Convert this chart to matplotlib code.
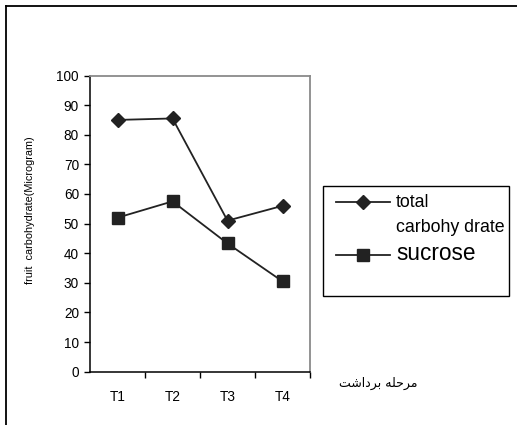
import matplotlib
matplotlib.use("Agg")
import matplotlib.pyplot as plt
from matplotlib.lines import Line2D
from matplotlib.patches import Rectangle

# Harvest stages and measured carbohydrate contents
stages = ["T1", "T2", "T3", "T4"]
total_carbohydrate = [85, 85.5, 51, 56]
sucrose = [52, 57.5, 43.3, 30.5]
y_ticks = list(range(0, 101, 10))

series_label_1 = "total"
series_label_1b = "carbohy drate"
series_label_2 = "sucrose"
y_label = "fruit  carbohydrate(Microgram)"
# "مرحله برداشت" written in presentation forms, visual order
x_label = "\uFE96\uFEB7\uFE8D\uFEA9\uFEAE\uFE91 \uFEEA\uFEE0\uFEA3\uFEAE\uFEE3"

W, H = 517, 425
plt.rcParams["font.family"] = ["Liberation Sans", "DejaVu Sans"]

fig = plt.figure(figsize=(W / 100, H / 100), dpi=100)
fig.patch.set_facecolor("white")


def fx(px):
    return px / W


def fy(py):
    return 1 - py / H


ax = fig.add_axes([fx(90), fy(371.7), fx(310) - fx(90), fy(75.5) - fy(371.7)])

line_color = "#222222"
x = list(range(len(stages)))
ax.plot(x, total_carbohydrate, color=line_color, lw=1.3, marker="D", ms=6.8,
        mfc=line_color, mec=line_color)
ax.plot(x, sucrose, color=line_color, lw=1.3, marker="s", ms=8.2,
        mfc=line_color, mec=line_color)

ax.set_xlim(-0.5, 3.5)
ax.set_ylim(0, 100)
ax.set_yticks(y_ticks)
ax.set_xticks(x)
ax.set_xticklabels(stages)
ax.set_xticks([0.5, 1.5, 2.5, 3.5], minor=True)
ax.tick_params(axis="x", which="major", length=0, pad=13.5, labelsize=9.8)
ax.tick_params(axis="x", which="minor", length=4, width=1, direction="out",
               color="black")
ax.tick_params(axis="y", which="major", length=4, width=1, direction="out",
               pad=4, labelsize=9.8, color="black")

for side in ("left", "bottom"):
    ax.spines[side].set_color("black")
    ax.spines[side].set_linewidth(1.1)
for side in ("top", "right"):
    ax.spines[side].set_color("#8a8a8a")
    ax.spines[side].set_linewidth(1.3)

ax.set_ylabel(y_label, fontsize=7.8)
ax.yaxis.set_label_coords((35 - 90) / 220, (371.7 - 210) / 296.2)

fig.text(fx(378), fy(383), x_label, fontsize=9, ha="center", va="center",
         family=["DejaVu Sans"])

# Legend box
fig.add_artist(Rectangle((fx(323), fy(296)), fx(509) - fx(323), fy(186) - fy(296),
                         transform=fig.transFigure, fill=False,
                         edgecolor="black", lw=1.0))
fig.add_artist(Line2D([fx(336), fx(390)], [fy(202), fy(202)], color=line_color,
                      lw=1.3, transform=fig.transFigure))
fig.add_artist(Line2D([fx(363)], [fy(202)], marker="D", ms=6.8, color=line_color,
                      transform=fig.transFigure))
fig.add_artist(Line2D([fx(336), fx(390)], [fy(255), fy(255)], color=line_color,
                      lw=1.3, transform=fig.transFigure))
fig.add_artist(Line2D([fx(363)], [fy(255)], marker="s", ms=8.2, color=line_color,
                      transform=fig.transFigure))
fig.text(fx(396), fy(202), series_label_1, fontsize=12.8, va="center", ha="left")
fig.text(fx(396), fy(228), series_label_1b, fontsize=12.8, va="center", ha="left")
fig.text(fx(396), fy(254), series_label_2, fontsize=16.3, va="center", ha="left")

# Outer frame (top and left edges)
fig.add_artist(Line2D([fx(6), fx(517)], [fy(6), fy(6)], color="black", lw=1.3,
                      transform=fig.transFigure))
fig.add_artist(Line2D([fx(6), fx(6)], [fy(6), fy(425)], color="black", lw=1.3,
                      transform=fig.transFigure))

fig.savefig("out.png", dpi=100)
